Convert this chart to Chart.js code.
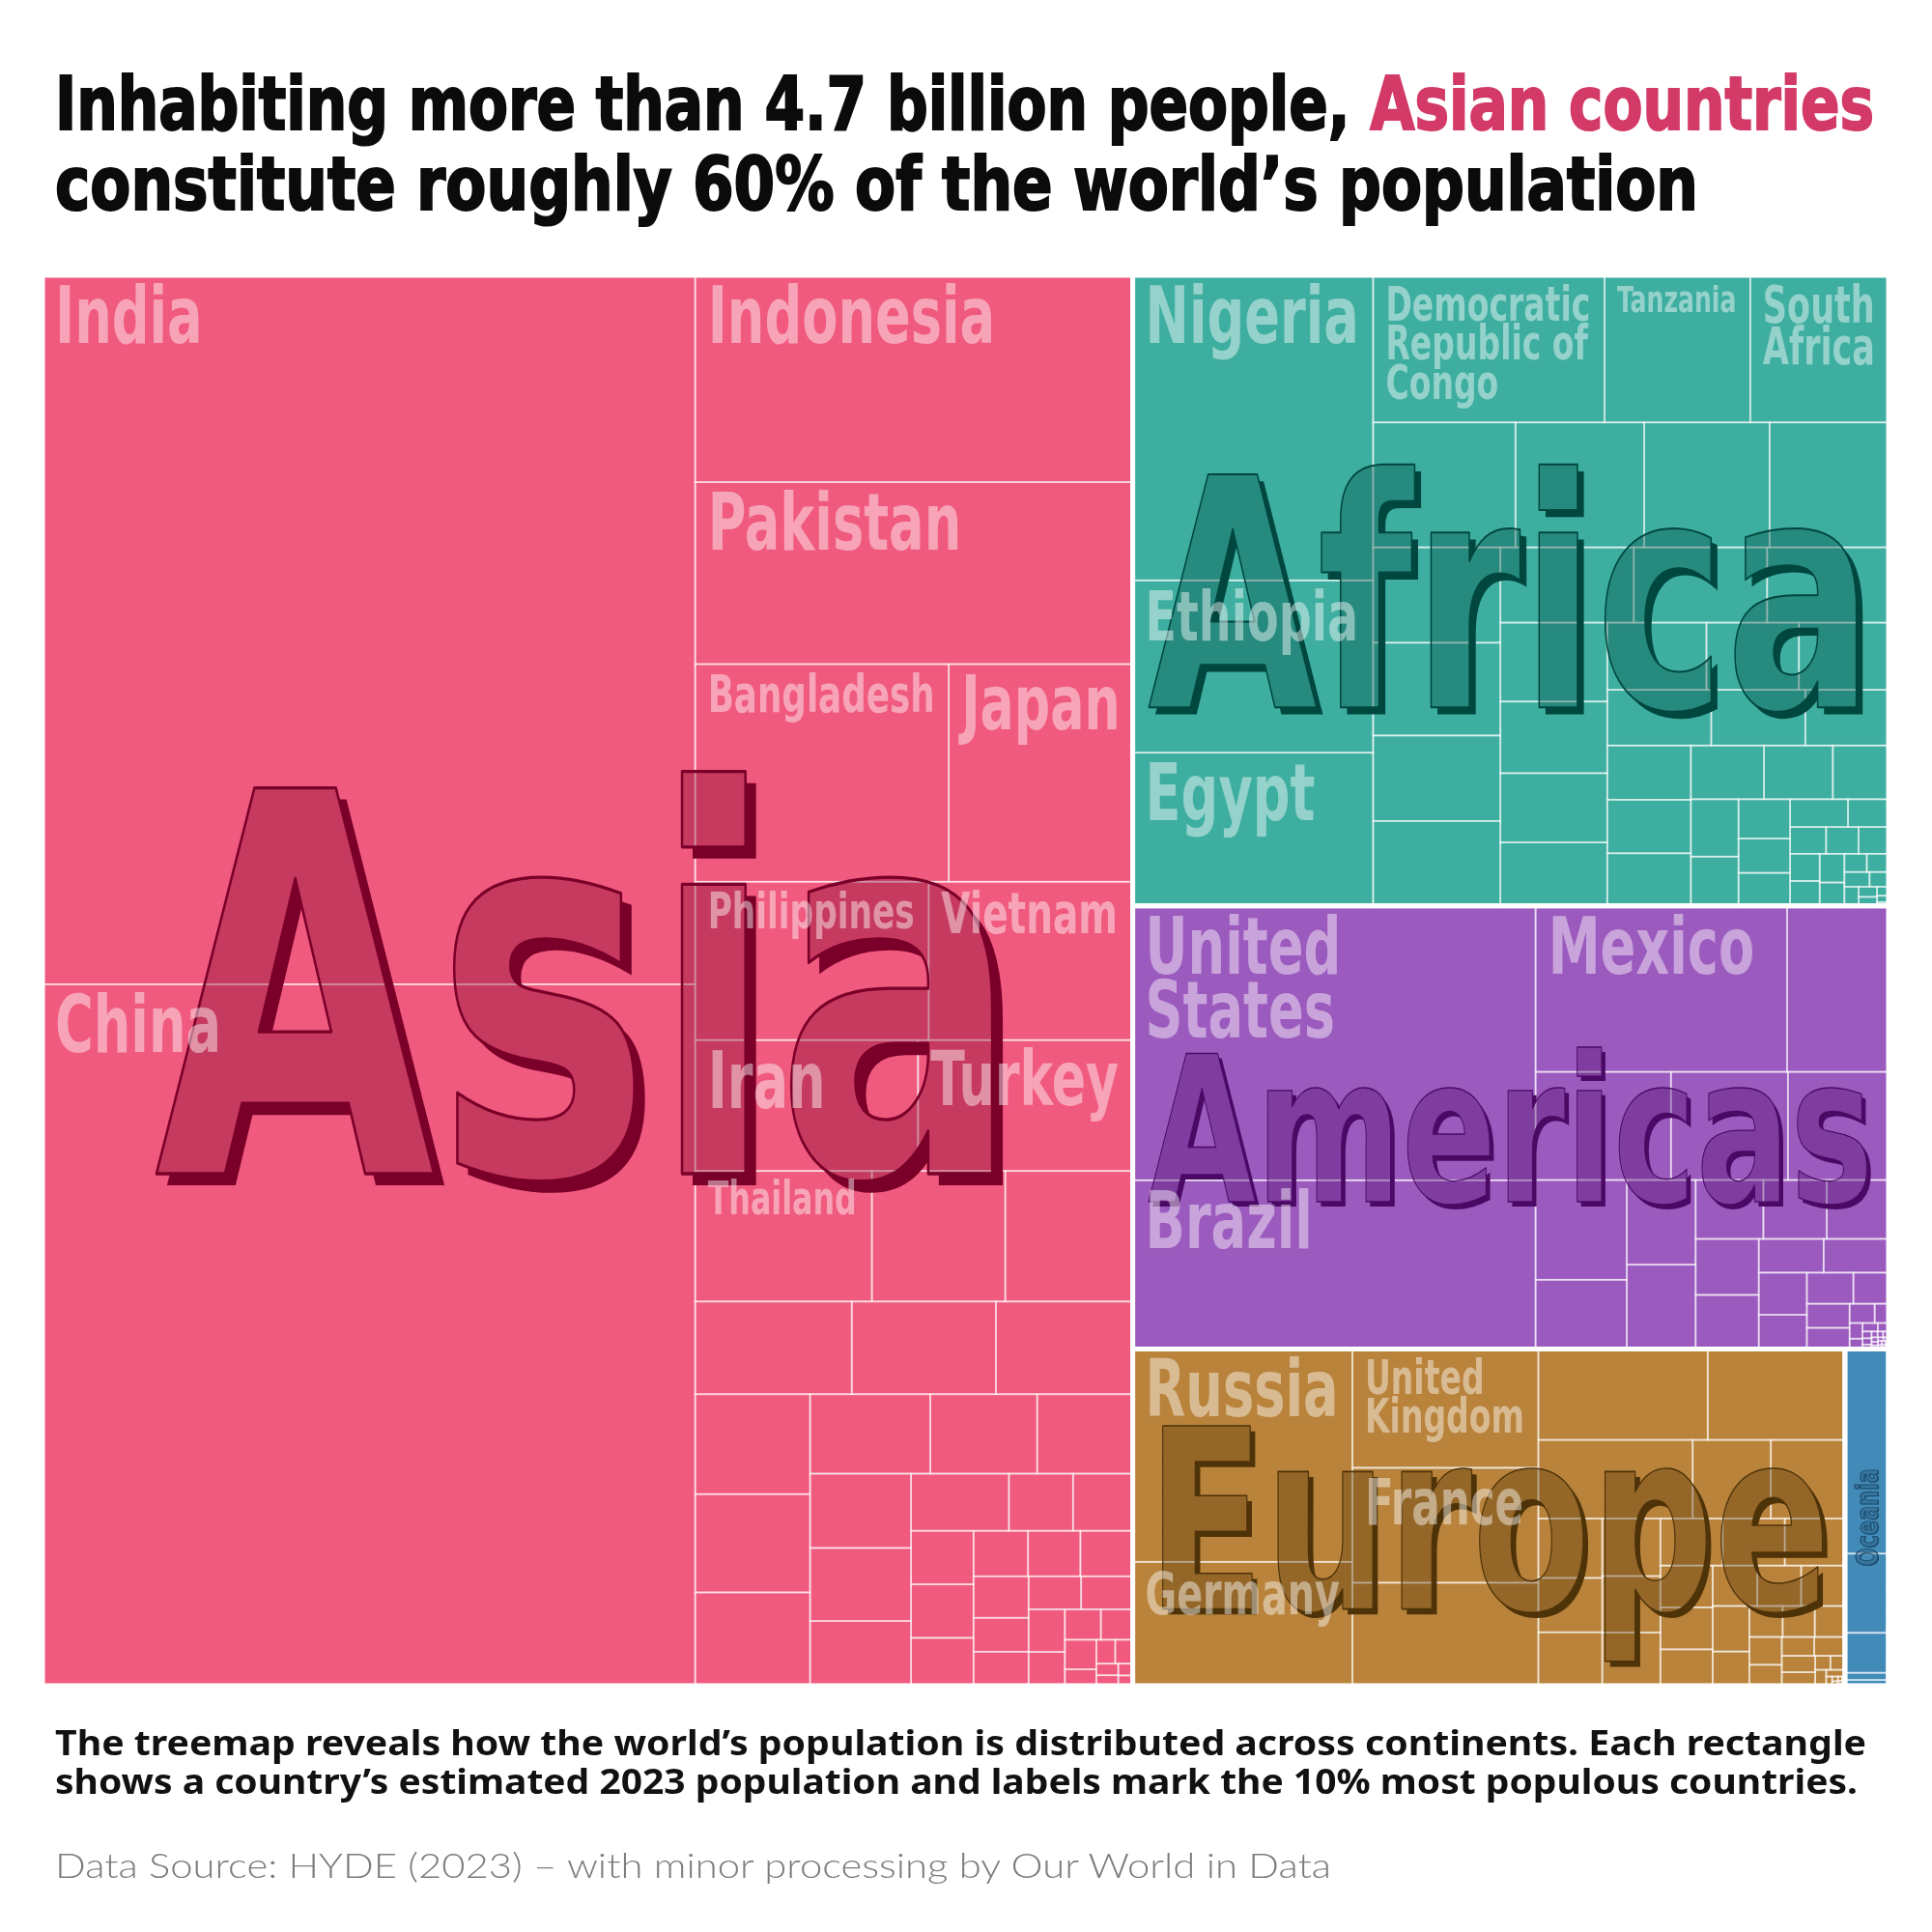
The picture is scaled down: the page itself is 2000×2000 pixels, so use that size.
<!DOCTYPE html>
<html>
<head>
<meta charset="utf-8">
<script src="https://cdn.jsdelivr.net/npm/chart.js@4.4.0/dist/chart.umd.min.js"></script>
<style>
  html, body { margin: 0; padding: 0; background: #fff; }
  #wrap { position: relative; width: 2000px; height: 2000px; overflow: hidden; background: #fff; }
  #chart { position: absolute; left: 0; top: 0; }
  .line { width: max-content; white-space: nowrap; transform-origin: 0 0; }
  .title { position: absolute; left: 57px; top: 66px; font-family: 'Liberation Sans Narrow', 'DejaVu Sans Condensed', sans-serif;
           font-weight: 700; font-size: 77px; line-height: 83px; color: #0b0b0b; -webkit-text-stroke: 2px #0b0b0b; }
  .title .hl { color: #d33a67; -webkit-text-stroke: 2px #d33a67; }
  .caption { position: absolute; left: 57px; top: 1784px; font-family: 'Noto Sans', 'DejaVu Sans', sans-serif;
             font-weight: 700; font-size: 35px; line-height: 40px; color: #111; }
  .source { position: absolute; left: 57px; top: 1910px; font-family: Lato, 'Open Sans', sans-serif;
            font-weight: 300; font-size: 35px; line-height: 40px; color: #7c7c7c; }
</style>
</head>
<body>
<div id="wrap">
  <canvas id="chart" width="2000" height="2000"></canvas>
  <div class="title">
    <div class="line" id="t1">Inhabiting more than 4.7 billion people, <span class="hl">Asian countries</span></div>
    <div class="line" id="t2">constitute roughly 60% of the world’s population</div>
  </div>
  <div class="caption">
    <div class="line" id="c1">The treemap reveals how the world’s population is distributed across continents. Each rectangle</div>
    <div class="line" id="c2">shows a country’s estimated 2023 population and labels mark the 10% most populous countries.</div>
  </div>
  <div class="source"><div class="line" id="s1">Data Source: HYDE (2023) – with minor processing by Our World in Data</div></div>
</div>
<script>
// population 2023, millions
const continents = ['Asia', 'Africa', 'Americas', 'Europe', 'Oceania'];

const asiaNames = ['India', 'China', 'Indonesia', 'Pakistan', 'Bangladesh', 'Japan', 'Philippines', 'Vietnam', 'Iran', 'Turkey',
  'Thailand', 'Myanmar', 'South Korea', 'Iraq', 'Afghanistan', 'Yemen', 'Uzbekistan', 'Malaysia', 'Saudi Arabia', 'Nepal',
  'North Korea', 'Syria', 'Taiwan', 'Sri Lanka', 'Kazakhstan', 'Cambodia', 'Jordan', 'United Arab Emirates', 'Tajikistan', 'Azerbaijan',
  'Israel', 'Laos', 'Turkmenistan', 'Hong Kong', 'Kyrgyzstan', 'Singapore', 'Lebanon', 'Palestine', 'Oman', 'Kuwait',
  'Georgia', 'Mongolia', 'Qatar', 'Armenia', 'Bahrain', 'East Timor', 'Cyprus', 'Bhutan', 'Macao', 'Maldives', 'Brunei'];
const asiaPop = [1438.1, 1422.6, 281.2, 247.5, 171.5, 124.4, 114.9, 100.4, 90.6, 87.3,
  71.7, 54.1, 51.7, 45.1, 41.5, 39.4, 35.7, 35.1, 33.3, 29.7,
  26.4, 23.6, 23.3, 22.9, 20.3, 17.4, 11.4, 10.6, 10.4, 10.4,
  9.3, 7.7, 7.4, 7.4, 7.1, 5.8, 5.8, 5.4, 5.3, 4.8,
  3.8, 3.4, 3.0, 2.9, 1.6, 1.4, 1.3, 0.79, 0.71, 0.53, 0.46];

const africaNames = ['Nigeria', 'Ethiopia', 'Egypt', 'Democratic Republic of Congo', 'Tanzania', 'South Africa', 'Kenya', 'Sudan', 'Uganda', 'Algeria',
  'Morocco', 'Angola', 'Ghana', 'Mozambique', 'Madagascar', "Cote d'Ivoire", 'Cameroon', 'Niger', 'Mali', 'Burkina Faso',
  'Malawi', 'Zambia', 'Chad', 'Somalia', 'Senegal', 'Zimbabwe', 'Guinea', 'Benin', 'Rwanda', 'Burundi',
  'Tunisia', 'South Sudan', 'Togo', 'Sierra Leone', 'Libya', 'Congo', 'Liberia', 'Central African Republic', 'Mauritania', 'Eritrea',
  'Namibia', 'Gambia', 'Botswana', 'Gabon', 'Lesotho', 'Guinea-Bissau', 'Equatorial Guinea', 'Mauritius', 'Eswatini', 'Djibouti',
  'Reunion', 'Comoros', 'Western Sahara', 'Cape Verde', 'Mayotte', 'Sao Tome and Principe', 'Seychelles', 'Saint Helena'];
const africaPop = [227.9, 128.7, 114.5, 105.8, 66.6, 63.2, 55.3, 50.0, 48.7, 46.2,
  37.7, 36.7, 33.8, 33.6, 31.2, 31.2, 28.4, 26.2, 23.8, 23.0,
  21.1, 20.7, 19.3, 18.7, 18.0, 16.3, 14.4, 14.1, 13.9, 13.7,
  12.2, 11.5, 9.3, 8.5, 7.3, 6.3, 5.5, 5.3, 5.0, 3.5,
  3.0, 2.7, 2.5, 2.5, 2.3, 2.2, 1.8, 1.27, 1.23, 1.15,
  0.87, 0.85, 0.58, 0.52, 0.32, 0.23, 0.13, 0.005];

const americasNames = ['United States', 'Brazil', 'Mexico', 'Colombia', 'Argentina', 'Canada', 'Peru', 'Venezuela', 'Chile', 'Guatemala',
  'Ecuador', 'Bolivia', 'Haiti', 'Dominican Republic', 'Cuba', 'Honduras', 'Nicaragua', 'Paraguay', 'El Salvador', 'Costa Rica',
  'Panama', 'Uruguay', 'Puerto Rico', 'Jamaica', 'Trinidad and Tobago', 'Guyana', 'Suriname', 'Belize', 'Bahamas', 'Barbados',
  'Curacao', 'Saint Lucia', 'Grenada', 'Aruba', 'Saint Vincent and the Grenadines', 'United States Virgin Islands', 'Antigua and Barbuda', 'Dominica', 'Cayman Islands', 'Bermuda',
  'Greenland', 'Saint Kitts and Nevis', 'Turks and Caicos Islands', 'Sint Maarten', 'Saint Martin', 'British Virgin Islands', 'Bonaire', 'Anguilla', 'Saint Barthelemy', 'Saint Pierre and Miquelon',
  'Montserrat', 'Falkland Islands'];
const americasPop = [343.5, 211.1, 129.7, 52.3, 45.5, 39.3, 33.8, 28.3, 19.6, 18.1,
  18.0, 12.4, 11.6, 11.3, 11.0, 10.6, 6.8, 6.8, 6.3, 5.1,
  4.5, 3.4, 3.2, 2.8, 1.5, 0.83, 0.63, 0.41, 0.40, 0.28,
  0.19, 0.18, 0.12, 0.11, 0.10, 0.10, 0.09, 0.07, 0.07, 0.064,
  0.056, 0.047, 0.046, 0.041, 0.032, 0.031, 0.027, 0.014, 0.011, 0.006,
  0.004, 0.0038];

const europeNames = ['Russia', 'Germany', 'United Kingdom', 'France', 'Italy', 'Spain', 'Poland', 'Ukraine', 'Romania', 'Netherlands',
  'Belgium', 'Czechia', 'Sweden', 'Portugal', 'Greece', 'Hungary', 'Belarus', 'Austria', 'Switzerland', 'Serbia',
  'Bulgaria', 'Denmark', 'Finland', 'Slovakia', 'Norway', 'Ireland', 'Croatia', 'Bosnia and Herzegovina', 'Moldova', 'Lithuania',
  'Albania', 'Slovenia', 'Latvia', 'North Macedonia', 'Kosovo', 'Estonia', 'Luxembourg', 'Montenegro', 'Malta', 'Iceland',
  'Channel Islands', 'Isle of Man', 'Andorra', 'Faroe Islands', 'Liechtenstein', 'Monaco', 'San Marino', 'Gibraltar', 'Vatican'];
const europePop = [145.4, 84.5, 68.7, 66.4, 59.5, 47.9, 38.8, 37.7, 19.1, 18.1,
  11.8, 10.8, 10.6, 10.4, 10.2, 9.6, 9.1, 9.1, 8.8, 6.8,
  6.8, 5.9, 5.6, 5.5, 5.5, 5.2, 3.9, 3.2, 3.1, 2.9,
  2.8, 2.1, 1.9, 1.8, 1.7, 1.4, 0.66, 0.63, 0.54, 0.39,
  0.17, 0.084, 0.08, 0.054, 0.039, 0.038, 0.034, 0.033, 0.0005];

const oceaniaNames = ['Australia', 'Papua New Guinea', 'New Zealand', 'Fiji', 'Solomon Islands', 'Vanuatu', 'French Polynesia', 'New Caledonia', 'Samoa', 'Guam',
  'Kiribati', 'Micronesia', 'Tonga', 'Northern Mariana Islands', 'American Samoa', 'Marshall Islands', 'Palau', 'Cook Islands', 'Nauru', 'Tuvalu',
  'Wallis and Futuna', 'Niue', 'Tokelau'];
const oceaniaPop = [26.6, 10.3, 5.2, 0.93, 0.74, 0.33, 0.31, 0.29, 0.22, 0.17,
  0.13, 0.11, 0.10, 0.05, 0.045, 0.04, 0.018, 0.017, 0.012, 0.011,
  0.011, 0.002, 0.002];

const labelShare = 0.10; // label the 10% most populous countries

// styles
const nameLists = [asiaNames, africaNames, americasNames, europeNames, oceaniaNames];
const popLists = [asiaPop, africaPop, americasPop, europePop, oceaniaPop];
const fills = ['#f05a7e', '#3daea0', '#9b5abe', '#b9833b', '#428bb9'];
const inks = ['#7a0029', '#00473f', '#4b0966', '#4f3308', '#1e4d6e'];
const FONT = "'Liberation Sans Narrow', 'DejaVu Sans Condensed', sans-serif";

function sum(a) { return a.reduce((s, v) => s + v, 0); }

// squarified layout in a unit frame, the first row of every level goes in a column
function worst(areas, i, j, side) {
  let s = 0, mx = 0, mn = Infinity;
  for (let k = i; k < j; k++) { s += areas[k]; mx = Math.max(mx, areas[k]); mn = Math.min(mn, areas[k]); }
  const t = s / side;
  return Math.max(t * t / mn, mx / (t * t));
}
function squarify(values, rect) {
  const scale = rect.w * rect.h / sum(values);
  const areas = values.map(v => v * scale);
  const out = [];
  let { x, y, w, h } = rect;
  let i = 0, first = true;
  while (i < areas.length) {
    const column = first || w >= h;
    const side = column ? h : w;
    let j = i + 1;
    let best = worst(areas, i, j, side);
    while (j < areas.length) {
      const r = worst(areas, i, j + 1, side);
      if (r > best) break;
      best = r; j++;
    }
    let s = 0;
    for (let k = i; k < j; k++) s += areas[k];
    const t = s / side;
    let pos = column ? y : x;
    for (let k = i; k < j; k++) {
      const len = areas[k] / t;
      if (column) out.push({ x0: x, x1: x + t, y0: pos, y1: pos + len });
      else out.push({ x0: pos, x1: pos + len, y0: y, y1: y + t });
      pos += len;
    }
    if (column) { x += t; w -= t; } else { y += t; h -= t; }
    i = j; first = false;
  }
  return out;
}

const groupValues = popLists.map(sum);
const groupRects = squarify(groupValues, { x: 0, y: 0, w: 1, h: 1 });
const groupPoints = groupRects.map((r, gi) => ({ x: (r.x0 + r.x1) / 2, y: (r.y0 + r.y1) / 2, ...r, name: continents[gi], group: gi }));

const cellPoints = [];
continents.forEach((c, gi) => {
  const vals = popLists[gi];
  const order = vals.map((v, i) => i).sort((a, b) => vals[b] - vals[a]);
  const r = groupRects[gi];
  const rects = squarify(order.map(i => vals[i]), { x: r.x0, y: r.y0, w: r.x1 - r.x0, h: r.y1 - r.y0 });
  rects.forEach((q, k) => cellPoints.push({ x: (q.x0 + q.x1) / 2, y: (q.y0 + q.y1) / 2, ...q,
    name: nameLists[gi][order[k]], value: vals[order[k]], group: gi }));
});
const nLabels = Math.ceil(cellPoints.length * labelShare);
const labelled = new Set(cellPoints.slice().sort((a, b) => b.value - a.value).slice(0, nLabels));

function wrapWords(ctx, text, maxW, sq) {
  const words = text.split(' ');
  const lines = [];
  let cur = '';
  for (const w of words) {
    if (ctx.measureText(w).width * sq > maxW) return null;
    const trial = cur ? cur + ' ' + w : w;
    if (ctx.measureText(trial).width * sq <= maxW) cur = trial;
    else { lines.push(cur); cur = w; }
  }
  lines.push(cur);
  return lines;
}

const treemapPlugin = {
  id: 'treemap',
  afterDatasetsDraw(chart) {
    const ctx = chart.ctx;
    const xs = chart.scales.x, ys = chart.scales.y;
    const box = p => ({ x0: xs.getPixelForValue(p.x0), x1: xs.getPixelForValue(p.x1), y0: ys.getPixelForValue(p.y0), y1: ys.getPixelForValue(p.y1) });
    const cells = chart.data.datasets[0].data;
    const groups = chart.data.datasets[1].data;

    ctx.save();
    ctx.font = 'bold 100px ' + FONT;
    const capR = ctx.measureText('H').actualBoundingBoxAscent / 100 || 0.72;
    const sqLabel = 4.97 / (ctx.measureText('Indonesia').width / (capR * 100));
    const sqBig = 3.11 / (ctx.measureText('Africa').width / (capR * 100));

    // tiles
    cells.forEach(c => {
      const b = box(c);
      ctx.fillStyle = fills[c.group];
      ctx.fillRect(b.x0, b.y0, b.x1 - b.x0, b.y1 - b.y0);
    });
    ctx.strokeStyle = 'rgba(255,255,255,0.5)';
    ctx.lineWidth = 1.8;
    cells.forEach(c => {
      const b = box(c);
      ctx.strokeRect(b.x0, b.y0, b.x1 - b.x0, b.y1 - b.y0);
    });

    // continent names, grown to fit their box
    const off = document.createElement('canvas');
    off.width = chart.canvas.width; off.height = chart.canvas.height;
    const octx = off.getContext('2d');
    groups.forEach(g => {
      const b = box(g);
      const bw = b.x1 - b.x0, bh = b.y1 - b.y0;
      const vertical = bw < bh * 0.3;
      const along = vertical ? bh : bw, across = vertical ? bw : bh;
      ctx.font = 'bold 100px ' + FONT;
      const m = ctx.measureText(g.name);
      const w100 = m.width * sqBig;
      const ink100 = m.actualBoundingBoxAscent + m.actualBoundingBoxDescent;
      const size = Math.min(100 * along * 0.96 / w100, 100 * (across - 20) / ink100, 400 / capR);
      const cap = capR * size;
      const cx = (b.x0 + b.x1) / 2, cy = (b.y0 + b.y1) / 2;
      const d = size * 0.02;
      const font = 'bold ' + size + 'px ' + FONT;
      const glyph = (c, ox, oy, mode) => {
        c.save();
        c.translate(cx + ox, cy + oy);
        if (vertical) c.rotate(-Math.PI / 2);
        c.scale(sqBig, 1);
        c.font = font; c.textAlign = 'center'; c.textBaseline = 'alphabetic';
        if (mode === 'stroke') c.strokeText(g.name, 0, cap / 2); else c.fillText(g.name, 0, cap / 2);
        c.restore();
      };
      octx.clearRect(0, 0, off.width, off.height);
      octx.globalCompositeOperation = 'source-over';
      octx.fillStyle = inks[g.group];
      glyph(octx, d, d * 1.1, 'fill');
      octx.globalCompositeOperation = 'destination-out';
      glyph(octx, 0, 0, 'fill');
      ctx.drawImage(off, 0, 0);
      ctx.globalAlpha = 0.35;
      ctx.fillStyle = inks[g.group];
      glyph(ctx, 0, 0, 'fill');
      ctx.globalAlpha = 1;
      ctx.strokeStyle = inks[g.group];
      ctx.lineWidth = Math.max(1.2, size * 0.006);
      ctx.lineJoin = 'round';
      glyph(ctx, 0, 0, 'stroke');
    });

    // country labels, shrunk and wrapped to fit their tile
    const PAD_X = 13, PAD_Y = 10;
    ctx.fillStyle = 'rgba(255,255,255,0.45)';
    ctx.textAlign = 'left'; ctx.textBaseline = 'alphabetic';
    cells.forEach(c => {
      if (!labelled.has(c)) return;
      const b = box(c);
      const W = b.x1 - b.x0 - 2 * PAD_X, H = b.y1 - b.y0 - 2 * PAD_Y;
      for (let f = Math.round(60 / capR); f >= 8; f--) {
        ctx.font = 'bold ' + f + 'px ' + FONT;
        const lines = wrapWords(ctx, c.name, W, sqLabel);
        if (!lines) continue;
        const cap = capR * f, lh = 0.81 * f;
        if (cap + (lines.length - 1) * lh > H) continue;
        lines.forEach((ln, k) => {
          ctx.save();
          ctx.translate(b.x0 + PAD_X, b.y0 + PAD_Y + cap + k * lh);
          ctx.scale(sqLabel, 1);
          ctx.fillText(ln, 0, 0);
          ctx.restore();
        });
        break;
      }
    });

    // continent borders
    ctx.strokeStyle = '#ffffff';
    ctx.lineWidth = 5;
    groups.forEach(g => {
      const b = box(g);
      ctx.strokeRect(b.x0, b.y0, b.x1 - b.x0, b.y1 - b.y0);
    });
    ctx.restore();
  }
};

const chart = new Chart(document.getElementById('chart').getContext('2d'), {
  type: 'scatter',
  data: {
    datasets: [
      { label: 'countries', data: cellPoints, pointRadius: 0, pointHoverRadius: 0 },
      { label: 'continents', data: groupPoints, pointRadius: 0, pointHoverRadius: 0 }
    ]
  },
  options: {
    responsive: false,
    animation: false,
    events: [],
    layout: { padding: { left: 44, right: 45, top: 285, bottom: 255 } },
    scales: {
      x: { type: 'linear', min: 0, max: 1, display: false },
      y: { type: 'linear', min: 0, max: 1, reverse: true, display: false }
    },
    plugins: { legend: { display: false }, tooltip: { enabled: false }, title: { display: false } }
  },
  plugins: [treemapPlugin]
});

function fitLine(id, target) {
  const el = document.getElementById(id);
  const w = el.getBoundingClientRect().width;
  if (w > 0) el.style.transform = 'scaleX(' + (target / w) + ')';
}
fitLine('t1', 1883); fitLine('t2', 1701);
fitLine('c1', 1875); fitLine('c2', 1866);
fitLine('s1', 1321);
</script>
</body>
</html>
